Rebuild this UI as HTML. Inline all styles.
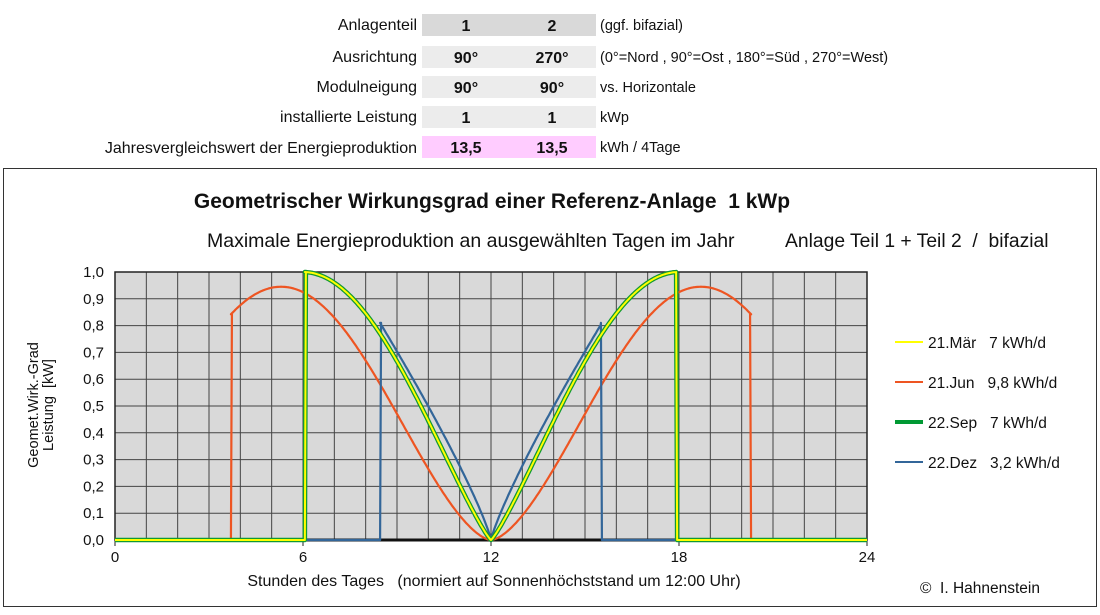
<!DOCTYPE html>
<html><head><meta charset="utf-8"><style>
body{margin:0;background:#fff;width:1100px;height:610px;overflow:hidden;font-family:"Liberation Sans",sans-serif;}
text{white-space:pre;}
</style></head><body>
<svg id="s" width="1100" height="610" xmlns="http://www.w3.org/2000/svg" font-family="Liberation Sans, sans-serif">
<g font-size="16" fill="#111">
<text x="417" y="30" text-anchor="end">Anlagenteil</text>
<text x="417" y="62" text-anchor="end">Ausrichtung</text>
<text x="417" y="92" text-anchor="end">Modulneigung</text>
<text x="417" y="122" text-anchor="end">installierte Leistung</text>
<text x="417" y="153" text-anchor="end">Jahresvergleichswert der Energieproduktion</text>
<rect x="422" y="14" width="174" height="22" fill="#d9d9d9"/>
<rect x="422" y="46" width="174" height="22" fill="#ececec"/>
<rect x="422" y="76" width="174" height="22" fill="#ececec"/>
<rect x="422" y="106" width="174" height="22" fill="#ececec"/>
<rect x="422" y="136" width="174" height="22" fill="#ffccff"/>
<g font-weight="bold" text-anchor="middle">
<text x="466" y="31">1</text><text x="552" y="31">2</text>
<text x="466" y="63">90°</text><text x="552" y="63">270°</text>
<text x="466" y="93">90°</text><text x="552" y="93">90°</text>
<text x="466" y="123">1</text><text x="552" y="123">1</text>
<text x="466" y="153">13,5</text><text x="552" y="153">13,5</text>
</g>
<g font-size="14.5">
<text x="600" y="30">(ggf. bifazial)</text>
<text x="600" y="62">(0°=Nord , 90°=Ost , 180°=Süd , 270°=West)</text>
<text x="600" y="92">vs. Horizontale</text>
<text x="600" y="122">kWp</text>
<text x="600" y="152">kWh / 4Tage</text>
</g>
</g>
<rect x="3.5" y="168.5" width="1093" height="438" fill="#fff" stroke="#333" stroke-width="1"/>
<text x="492" y="208" font-size="21" font-weight="bold" text-anchor="middle" fill="#111">Geometrischer Wirkungsgrad einer Referenz-Anlage  1 kWp</text>
<text x="207" y="247" font-size="19.5" fill="#111">Maximale Energieproduktion an ausgewählten Tagen im Jahr</text>
<text x="785" y="247" font-size="19.3" fill="#111">Anlage Teil 1 + Teil 2  /  bifazial</text>
<rect x="115" y="272" width="752" height="268" fill="#d9d9d9"/>
<g id="grid" stroke="#444" stroke-width="1"></g>
<g id="lab" font-size="15" fill="#111"></g>
<g id="ser" fill="none" stroke-linejoin="round"></g>
<text x="494" y="586" font-size="16" text-anchor="middle" fill="#111">Stunden des Tages   (normiert auf Sonnenhöchststand um 12:00 Uhr)</text>
<text x="920" y="593" font-size="15.5" fill="#111">©  I. Hahnenstein</text>
<g transform="translate(38,405) rotate(-90)" font-size="14.5" fill="#111" text-anchor="middle">
<text x="0" y="0">Geomet.Wirk.-Grad</text><text x="0" y="15">Leistung  [kW]</text></g>
<g font-size="15.5" fill="#111">
<line x1="895" y1="342" x2="923" y2="342" stroke="#ffff00" stroke-width="2"/>
<text x="928" y="348">21.Mär   7 kWh/d</text>
<line x1="895" y1="382" x2="923" y2="382" stroke="#ee5522" stroke-width="2"/>
<text x="928" y="388">21.Jun   9,8 kWh/d</text>
<line x1="895" y1="422" x2="923" y2="422" stroke="#009933" stroke-width="4"/>
<text x="928" y="428">22.Sep   7 kWh/d</text>
<line x1="895" y1="462" x2="923" y2="462" stroke="#336699" stroke-width="2"/>
<text x="928" y="468">22.Dez   3,2 kWh/d</text>
</g>
</svg>
<script>
var X=function(t){return 115+t*752/24},Y=function(v){return 540-v*268};
var g=document.getElementById('grid'),l=document.getElementById('lab'),s=document.getElementById('ser'),h='',L='';
for(var i=0;i<=24;i++)h+='<line x1="'+X(i)+'" y1="272" x2="'+X(i)+'" y2="540"/>';
for(var j=0;j<=10;j++)h+='<line x1="115" y1="'+Y(j/10)+'" x2="867" y2="'+Y(j/10)+'"/>';
h+='<rect x="115" y="272" width="752" height="268" fill="none" stroke="#222" stroke-width="1.5"/>';
for(var i=0;i<=24;i+=6){h+='<line x1="'+X(i)+'" y1="540" x2="'+X(i)+'" y2="546" stroke="#222"/>';L+='<text x="'+X(i)+'" y="562" text-anchor="middle">'+i+'</text>';}
for(var j=0;j<=10;j++)L+='<text x="104" y="'+(Y(j/10)+5)+'" text-anchor="end">'+(j/10).toFixed(1).replace('.',',')+'</text>';
g.innerHTML=h;l.innerHTML=L;
var d2r=Math.PI/180;
var mar=function(t){return Math.pow(Math.max(0,Math.cos(15*(t-6)*d2r)),1.17)};
var jun=function(t){return 0.945*Math.pow(Math.max(0,Math.cos((t-5.3)*90/6.7*d2r)),1.6)};
var dez=function(t){return 0.81*Math.pow(Math.max(0,(12-t)/3.54),0.85)};
function path(f,a){var p='M'+X(0)+','+Y(0)+' L'+X(a)+','+Y(0)+' L'+(X(a)+1)+','+Y(f(a)).toFixed(1);
for(var t=a;t<=12.0001;t+=0.05)p+=' L'+X(t).toFixed(1)+','+Y(f(t)).toFixed(1);
for(var t=12;t<=24-a+0.0001;t+=0.05)p+=' L'+X(t).toFixed(1)+','+Y(f(24-t)).toFixed(1);
p+=' L'+(X(24-a)-1)+','+Y(f(a)).toFixed(1)+' L'+X(24-a)+','+Y(0)+' L'+X(24)+','+Y(0);return p;}
function pth(f,a,c,w){return '<path d="'+path(f,a)+'" stroke="'+c+'" stroke-width="'+w+'"/>';}
s.innerHTML='<line x1="'+X(6)+'" y1="540" x2="'+X(18)+'" y2="540" stroke="#111" stroke-width="3"/>'+
pth(jun,3.7,'#ee5522',2.2)+pth(dez,8.46,'#336699',2.2)+pth(mar,6.06,'#119933',4.5)+pth(mar,6.06,'#ffff00',2);
</script>
</body></html>
